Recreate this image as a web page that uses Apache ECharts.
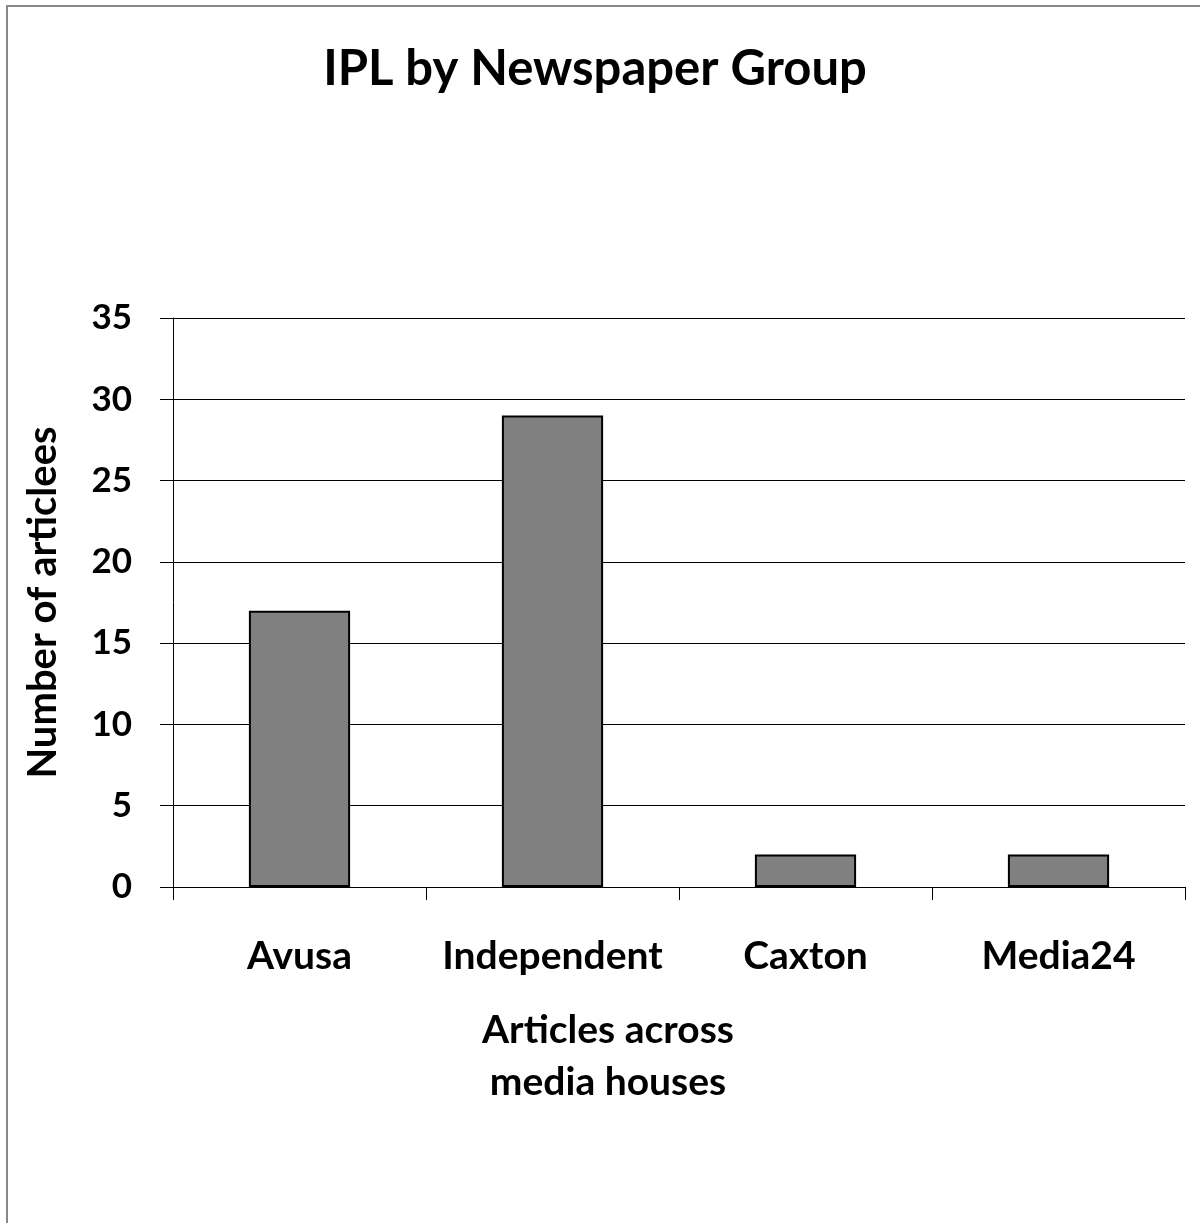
<!DOCTYPE html>
<html>
<head>
<meta charset="utf-8">
<script src="https://cdn.jsdelivr.net/npm/echarts@6/dist/echarts.min.js"></script>
<style>
  html, body { margin: 0; padding: 0; background: #fff; }
  #frame {
    position: absolute; left: 6px; top: 5px; width: 1194px; height: 1218px;
    border-top: 2px solid #888; border-left: 2px solid #888; box-sizing: border-box;
  }
  #main { position: absolute; left: 0; top: 0; width: 1200px; height: 1223px; }
</style>
</head>
<body>
<div id="frame"></div>
<div id="main"></div>
<script>
// data
const categories = ["Avusa", "Independent", "Caxton", "Media24"];
const articles = [17, 29, 2, 2];
const yTicks = [0, 35, 5]; // min, max, interval

const font = "Lato, 'Noto Sans', sans-serif";

const mychart = echarts.init(document.getElementById("main"));
const option = {
  animation: false,
  title: {
    text: "IPL by Newspaper Group",
    left: 590,
    top: 40,
    textAlign: "center",
    textStyle: { fontFamily: font, fontSize: 49, fontWeight: "bold", color: "#000" },
  },
  grid: { left: 173, right: 15, top: 318, bottom: 336, containLabel: false },
  xAxis: {
    type: "category",
    data: categories,
    axisLine: { lineStyle: { color: "#000", width: 1 } },
    axisTick: { show: true, interval: 0, length: 13, alignWithLabel: false, lineStyle: { color: "#000" } },
    axisLabel: { interval: 0, margin: 50, fontFamily: font, fontSize: 39, fontWeight: "bold", color: "#000" },
  },
  yAxis: {
    type: "value",
    min: yTicks[0],
    max: yTicks[1],
    interval: yTicks[2],
    name: "Number of articlees",
    nameLocation: "middle",
    nameGap: 110,
    nameRotate: 90,
    nameTextStyle: { fontFamily: font, fontSize: 40, fontWeight: "bold", color: "#000" },
    axisLine: { show: true, lineStyle: { color: "#000", width: 1 } },
    axisTick: { show: true, length: 13, inside: false, lineStyle: { color: "#000" } },
    axisLabel: { margin: 41, fontFamily: font, fontSize: 35, fontWeight: "bold", color: "#000" },
    splitLine: { show: true, lineStyle: { color: "#000", width: 1 } },
  },
  graphic: [
    {
      type: "text",
      x: 608,
      y: 1056,
      style: {
        text: "Articles across\nmedia houses",
        textAlign: "center",
        textVerticalAlign: "middle",
        fontFamily: font,
        fontSize: 39,
        fontWeight: "bold",
        lineHeight: 52,
        fill: "#000",
      },
    },
  ],
  series: [
    {
      type: "bar",
      data: articles,
      barWidth: "40%",
      itemStyle: { color: "#808080", borderColor: "#000", borderWidth: 2 },
    },
  ],
};
mychart.setOption(option);
</script>
</body>
</html>
